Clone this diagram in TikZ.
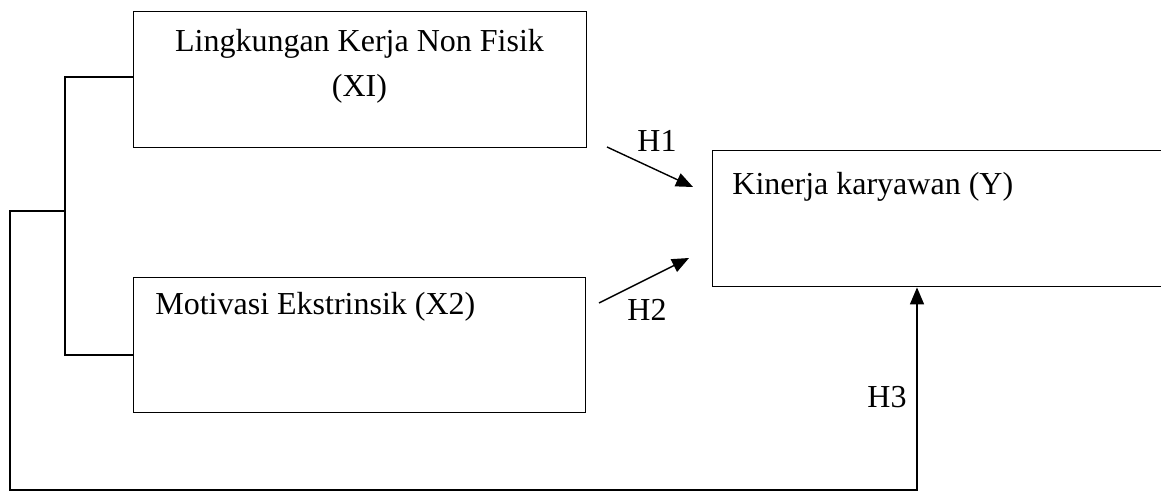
\documentclass[tikz,border=0pt]{standalone}
\usepackage{fontspec}
\setmainfont{Liberation Serif}
\usetikzlibrary{arrows.meta}
\begin{document}
\begin{tikzpicture}[x=0.5pt,y=-0.5pt,
  box/.style={draw,line width=0.7pt,rectangle,inner sep=0pt,anchor=north west},
  lbl/.style={font=\fontsize{16}{22.5}\selectfont,inner sep=0pt},
  conn/.style={line width=0.7pt},
  arr/.style={conn,-{Triangle[length=8.5pt,width=7pt]}}]
\useasboundingbox (0,0) rectangle (1161,491);
\clip (0,0) rectangle (1161,491);
% boxes
\node[box,minimum width=226.5pt,minimum height=68pt] (x1) at (133,11) {};
\node[box,minimum width=226pt,minimum height=67.5pt] (x2) at (133,277) {};
\node[box,minimum width=260pt,minimum height=68pt] (y) at (712,150) {};
% texts
\node[lbl,align=center,anchor=base] (x1t) at (359.5,97) {Lingkungan Kerja Non Fisik\\(XI)};
\node[lbl,anchor=base west] (x2t) at (155,315) {Motivasi Ekstrinsik (X2)};
\node[lbl,anchor=base west] (yt) at (732,195) {Kinerja karyawan (Y)};
\node[lbl] (h1) at (657,141) {H1};
\node[lbl] (h2) at (647,310) {H2};
\node[lbl] (h3) at (887,397) {H3};
% coordinates
\coordinate (b1) at (65,77);
\coordinate (b2) at (65,355);
\coordinate (bm) at (65,211);
\coordinate (lt) at (10,211);
\coordinate (lb) at (10,490);
\coordinate (rb) at (917,490);
\coordinate (h1s) at (607,147);
\coordinate (h1e) at (693,187);
\coordinate (h2s) at (599,303);
\coordinate (h2e) at (689,258);
% connectors
\draw[conn] (x1.west |- b1) -- (b1) -- (b2) -- (x2.west |- b2);
\draw[arr] (bm) -- (lt) -- (lb) -- (rb) -- (rb |- y.south);
\draw[arr] (h1s) -- (h1e);
\draw[arr] (h2s) -- (h2e);
\end{tikzpicture}
\end{document}
